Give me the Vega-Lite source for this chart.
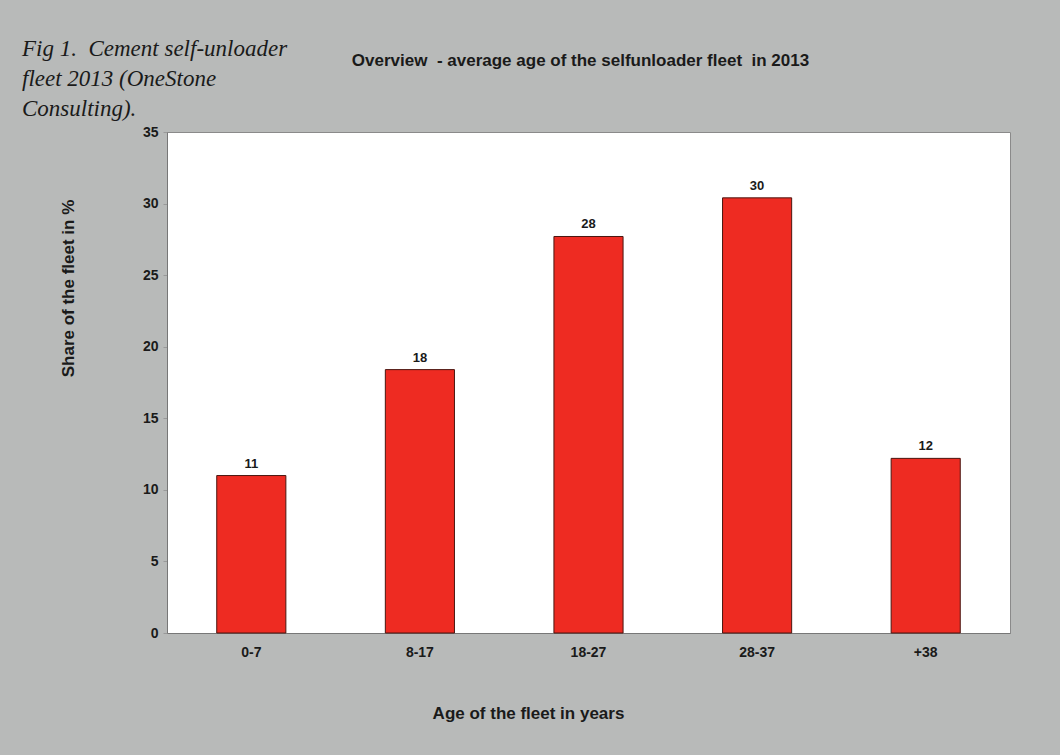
{
  "$schema": "https://vega.github.io/schema/vega-lite/v6.json",
  "width": 843,
  "height": 501,
  "autosize": {"type": "none"},
  "padding": {"left": 167, "top": 132, "right": 50, "bottom": 122},
  "background": "#b8bab9",
  "title": {
    "text": ["Fig 1.\u00a0 Cement self-unloader", "fleet 2013 (OneStone", "Consulting)."],
    "anchor": "start",
    "frame": "group",
    "orient": "top",
    "font": "Liberation Serif",
    "fontStyle": "italic",
    "fontWeight": "normal",
    "fontSize": 23,
    "lineHeight": 30,
    "color": "#1a1a1a",
    "baseline": "top",
    "dx": -145,
    "dy": 74
  },
  "config": {
    "view": {"stroke": "#8a8a8a", "strokeWidth": 1, "fill": "#ffffff"},
    "axis": {
      "labelFont": "Liberation Sans",
      "labelFontWeight": "bold",
      "labelFontSize": 14,
      "labelColor": "#1a1a1a",
      "titleFont": "Liberation Sans",
      "titleFontWeight": "bold",
      "titleFontSize": 17,
      "titleColor": "#1a1a1a",
      "domainColor": "#777777",
      "tickColor": "#999999",
      "grid": false
    }
  },
  "data": {
    "values": [
      {"age": "0-7", "share": 11.0},
      {"age": "8-17", "share": 18.4},
      {"age": "18-27", "share": 27.7},
      {"age": "28-37", "share": 30.4},
      {"age": "+38", "share": 12.2}
    ]
  },
  "layer": [
    {
      "mark": {"type": "bar", "color": "#ee2b22", "stroke": "#4a1610", "strokeWidth": 1},
      "encoding": {
        "x": {
          "field": "age",
          "type": "nominal",
          "sort": null,
          "scale": {"paddingInner": 0.59, "paddingOuter": 0.295},
          "axis": {
            "orient": "bottom",
            "title": "Age of the fleet in years",
            "labelAngle": 0,
            "labelPadding": 12,
            "ticks": false,
            "titleX": 361,
            "titleY": 72,
            "titleBaseline": "top",
            "titleAlign": "center"
          }
        },
        "y": {
          "field": "share",
          "type": "quantitative",
          "scale": {"domain": [0, 35]},
          "axis": {
            "values": [0, 5, 10, 15, 20, 25, 30, 35],
            "title": "Share of the fleet in %",
            "tickSize": 4,
            "labelPadding": 5,
            "titleX": -90,
            "titleY": 156,
            "titleAlign": "center",
            "titleAngle": -90,
            "titleBaseline": "bottom"
          }
        }
      }
    },
    {
      "mark": {"type": "text", "dy": -12, "font": "Liberation Sans", "fontWeight": "bold", "fontSize": 13, "color": "#1a1a1a"},
      "encoding": {
        "x": {
          "field": "age",
          "type": "nominal",
          "sort": null,
          "axis": {
            "orient": "top",
            "title": "Overview\u00a0 - average age of the selfunloader fleet\u00a0 in 2013",
            "labels": false,
            "ticks": false,
            "domain": false,
            "titleFontSize": 17,
            "titleX": 413,
            "titleY": -72,
            "titleAlign": "center",
            "titleBaseline": "middle"
          }
        },
        "y": {"field": "share", "type": "quantitative"},
        "text": {"field": "share", "type": "quantitative", "format": ".0f"}
      }
    }
  ],
  "resolve": {"axis": {"x": "independent"}}
}
